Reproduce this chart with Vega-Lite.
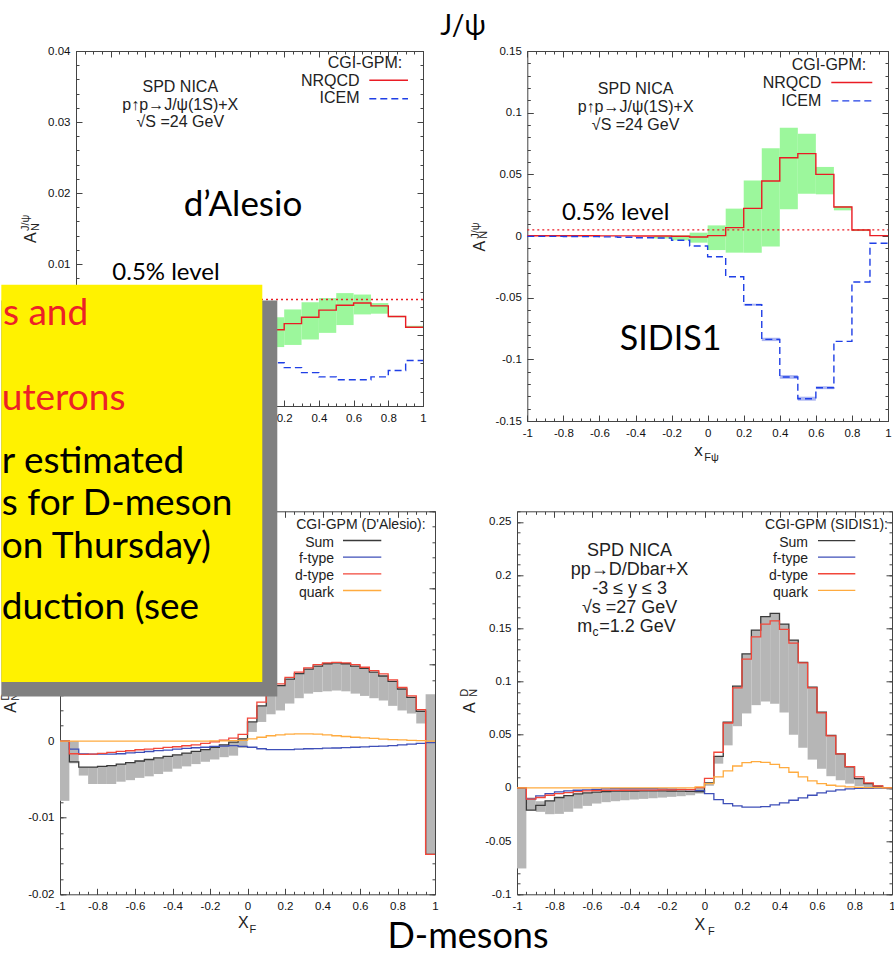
{
"$schema": "https://vega.github.io/schema/vega-lite/v6.json",
"padding": {"left": 0, "top": 12, "right": 0, "bottom": 0},
"background": "white",
"config": {"view": {"stroke": null}, "font": "Liberation Sans"},
"datasets": {
"tl": [
{"x":0.1,"nrqcd":0.00075,"icem":-0.0039},{"x":0.2,"nrqcd":0.0016,"icem":-0.0046},{"x":0.3,"nrqcd":0.0025,"icem":-0.0053},{"x":0.4,"nrqcd":0.0035,"icem":-0.0059},{"x":0.5,"nrqcd":0.0042,"icem":-0.0063},{"x":0.6,"nrqcd":0.0045,"icem":-0.0063},{"x":0.7,"nrqcd":0.0041,"icem":-0.0059},{"x":0.8,"nrqcd":0.0026,"icem":-0.005},{"x":0.9,"nrqcd":0.0011,"icem":-0.0036},{"x":1,"nrqcd":0.0011,"icem":-0.0036}],
"tl_band": [
{"x0":0.1,"x1":0.2,"lo":-0.0017,"hi":0.0025},{"x0":0.2,"x1":0.3,"lo":-0.0014,"hi":0.0036},{"x0":0.3,"x1":0.4,"lo":-0.00065,"hi":0.0046},{"x0":0.4,"x1":0.5,"lo":0.0003,"hi":0.0052},{"x0":0.5,"x1":0.6,"lo":0.0014,"hi":0.0059},{"x0":0.6,"x1":0.7,"lo":0.0029,"hi":0.0057},{"x0":0.7,"x1":0.8,"lo":0.003,"hi":0.0045},{"x0":0.8,"x1":0.9,"lo":0.0025,"hi":0.0027},{"x0":0.9,"x1":1,"lo":0.001,"hi":0.0013}],
"tr": [
{"x":-1,"nrqcd":0.0002,"icem":-0.0003},{"x":-0.9,"nrqcd":0.0002,"icem":-0.0003},{"x":-0.8,"nrqcd":0.0002,"icem":-0.0004},{"x":-0.7,"nrqcd":0.0002,"icem":-0.0005},{"x":-0.6,"nrqcd":0.0001,"icem":-0.0007},{"x":-0.5,"nrqcd":0.0001,"icem":-0.001},{"x":-0.4,"nrqcd":0,"icem":-0.0014},{"x":-0.3,"nrqcd":0,"icem":-0.0016},{"x":-0.2,"nrqcd":-0.0002,"icem":-0.0035},{"x":-0.1,"nrqcd":-0.0008,"icem":-0.0081},{"x":0,"nrqcd":0.0003,"icem":-0.0168},{"x":0.1,"nrqcd":0.0068,"icem":-0.033},{"x":0.2,"nrqcd":0.0224,"icem":-0.0557},{"x":0.3,"nrqcd":0.0446,"icem":-0.0838},{"x":0.4,"nrqcd":0.0635,"icem":-0.1143},{"x":0.5,"nrqcd":0.0668,"icem":-0.1319},{"x":0.6,"nrqcd":0.05,"icem":-0.123},{"x":0.7,"nrqcd":0.0235,"icem":-0.0854},{"x":0.8,"nrqcd":0.0049,"icem":-0.0373},{"x":0.9,"nrqcd":0.0003,"icem":-0.0059},{"x":1,"nrqcd":0.0003,"icem":-0.0059}],
"tr_band": [
{"x0":-0.3,"x1":-0.2,"lo":-0.002,"hi":0.0002},{"x0":-0.2,"x1":-0.1,"lo":-0.0035,"hi":0.0005},{"x0":-0.1,"x1":0,"lo":-0.0054,"hi":0.0027},{"x0":0,"x1":0.1,"lo":-0.0114,"hi":0.0086},{"x0":0.1,"x1":0.2,"lo":-0.0135,"hi":0.0222},{"x0":0.2,"x1":0.3,"lo":-0.0135,"hi":0.0451},{"x0":0.3,"x1":0.4,"lo":-0.0086,"hi":0.0711},{"x0":0.4,"x1":0.5,"lo":0.0216,"hi":0.0878},{"x0":0.5,"x1":0.6,"lo":0.0343,"hi":0.083},{"x0":0.6,"x1":0.7,"lo":0.0338,"hi":0.056},{"x0":0.7,"x1":0.8,"lo":0.0208,"hi":0.0243},{"x0":0.8,"x1":0.9,"lo":0.004,"hi":0.0054}],
"tr_iband": [
{"x0":0.2,"x1":0.3,"lo":-0.0565,"hi":-0.0549},{"x0":0.3,"x1":0.4,"lo":-0.0852,"hi":-0.0825},{"x0":0.4,"x1":0.5,"lo":-0.1158,"hi":-0.1128},{"x0":0.5,"x1":0.6,"lo":-0.1335,"hi":-0.1303},{"x0":0.6,"x1":0.7,"lo":-0.1242,"hi":-0.1218}],
"bl": [
{"x":-1,"sum":0,"f":0,"d":0,"q":0},{"x":-0.95,"sum":-0.0027,"f":-0.00105,"d":-0.00165,"q":0},{"x":-0.9,"sum":-0.0034,"f":-0.00166,"d":-0.00174,"q":0},{"x":-0.85,"sum":-0.0034,"f":-0.0017,"d":-0.0017,"q":0},{"x":-0.8,"sum":-0.0033,"f":-0.0017,"d":-0.0016,"q":0},{"x":-0.75,"sum":-0.0032,"f":-0.0017,"d":-0.00148,"q":0},{"x":-0.7,"sum":-0.003,"f":-0.00165,"d":-0.00135,"q":0},{"x":-0.65,"sum":-0.0028,"f":-0.00154,"d":-0.00126,"q":0},{"x":-0.6,"sum":-0.0026,"f":-0.00147,"d":-0.00113,"q":0},{"x":-0.55,"sum":-0.0024,"f":-0.00136,"d":-0.00104,"q":0},{"x":-0.5,"sum":-0.0022,"f":-0.00125,"d":-0.00095,"q":0},{"x":-0.45,"sum":-0.002,"f":-0.00118,"d":-0.00082,"q":0},{"x":-0.4,"sum":-0.0018,"f":-0.00106,"d":-0.00074,"q":0},{"x":-0.35,"sum":-0.00156,"f":-0.00095,"d":-0.00061,"q":0},{"x":-0.3,"sum":-0.00135,"f":-0.00087,"d":-0.00048,"q":0},{"x":-0.25,"sum":-0.0011,"f":-0.0008,"d":-0.0003,"q":0},{"x":-0.2,"sum":-0.0008,"f":-0.0007,"d":-0.0001,"q":0.00002},{"x":-0.15,"sum":-0.0005,"f":-0.00065,"d":0.00013,"q":0.00003},{"x":-0.1,"sum":-0.00013,"f":-0.0006,"d":0.0004,"q":0.00005},{"x":-0.05,"sum":0.0003,"f":-0.0007,"d":0.00087,"q":0.0001},{"x":0,"sum":0.0025,"f":-0.0008,"d":0.003,"q":0.0003},{"x":0.05,"sum":0.0046,"f":-0.001,"d":0.0051,"q":0.0005},{"x":0.1,"sum":0.006,"f":-0.0011,"d":0.0063,"q":0.0007},{"x":0.15,"sum":0.00725,"f":-0.0011,"d":0.00747,"q":0.0008},{"x":0.2,"sum":0.0081,"f":-0.0011,"d":0.00833,"q":0.0009},{"x":0.25,"sum":0.0088,"f":-0.00105,"d":0.009,"q":0.00095},{"x":0.3,"sum":0.0094,"f":-0.001,"d":0.00955,"q":0.00095},{"x":0.35,"sum":0.0098,"f":-0.00097,"d":0.00998,"q":0.0009},{"x":0.4,"sum":0.0101,"f":-0.00093,"d":0.0102,"q":0.0008},{"x":0.45,"sum":0.0102,"f":-0.0009,"d":0.01029,"q":0.0007},{"x":0.5,"sum":0.0101,"f":-0.00085,"d":0.0102,"q":0.0006},{"x":0.55,"sum":0.0098,"f":-0.0008,"d":0.00998,"q":0.0005},{"x":0.6,"sum":0.0095,"f":-0.00075,"d":0.00964,"q":0.00043},{"x":0.65,"sum":0.009,"f":-0.0007,"d":0.0092,"q":0.00035},{"x":0.7,"sum":0.0085,"f":-0.00065,"d":0.00877,"q":0.00026},{"x":0.75,"sum":0.0078,"f":-0.0006,"d":0.008,"q":0.0002},{"x":0.8,"sum":0.0068,"f":-0.0005,"d":0.007,"q":0.00015},{"x":0.85,"sum":0.0057,"f":-0.0004,"d":0.0059,"q":0.0001},{"x":0.9,"sum":0.0039,"f":-0.0003,"d":0.0041,"q":0.00005},{"x":0.95,"sum":-0.0148,"f":-0.0002,"d":-0.0148,"q":0},{"x":1,"sum":-0.0148,"f":-0.0002,"d":-0.0148,"q":0}],
"bl_band": [
{"x0":-1,"x1":-0.95,"lo":-0.0078,"hi":0},{"x0":-0.95,"x1":-0.9,"lo":-0.0029,"hi":0},{"x0":-0.9,"x1":-0.85,"lo":-0.0045,"hi":-0.0034},{"x0":-0.85,"x1":-0.8,"lo":-0.0056,"hi":-0.0034},{"x0":-0.8,"x1":-0.75,"lo":-0.0056,"hi":-0.0033},{"x0":-0.75,"x1":-0.7,"lo":-0.0056,"hi":-0.0032},{"x0":-0.7,"x1":-0.65,"lo":-0.0053,"hi":-0.003},{"x0":-0.65,"x1":-0.6,"lo":-0.0051,"hi":-0.0028},{"x0":-0.6,"x1":-0.55,"lo":-0.0048,"hi":-0.0026},{"x0":-0.55,"x1":-0.5,"lo":-0.0046,"hi":-0.0024},{"x0":-0.5,"x1":-0.45,"lo":-0.0043,"hi":-0.0022},{"x0":-0.45,"x1":-0.4,"lo":-0.004,"hi":-0.002},{"x0":-0.4,"x1":-0.35,"lo":-0.0036,"hi":-0.0018},{"x0":-0.35,"x1":-0.3,"lo":-0.0033,"hi":-0.00156},{"x0":-0.3,"x1":-0.25,"lo":-0.003,"hi":-0.00135},{"x0":-0.25,"x1":-0.2,"lo":-0.0027,"hi":-0.0011},{"x0":-0.2,"x1":-0.15,"lo":-0.0024,"hi":-0.0008},{"x0":-0.15,"x1":-0.1,"lo":-0.0021,"hi":-0.0005},{"x0":-0.1,"x1":-0.05,"lo":-0.0019,"hi":-0.00013},{"x0":-0.05,"x1":0,"lo":-0.0009,"hi":0.0003},{"x0":0,"x1":0.05,"lo":0.0012,"hi":0.0025},{"x0":0.05,"x1":0.1,"lo":0.0025,"hi":0.0046},{"x0":0.1,"x1":0.15,"lo":0.0035,"hi":0.006},{"x0":0.15,"x1":0.2,"lo":0.004,"hi":0.00725},{"x0":0.2,"x1":0.25,"lo":0.0049,"hi":0.0081},{"x0":0.25,"x1":0.3,"lo":0.0056,"hi":0.0088},{"x0":0.3,"x1":0.35,"lo":0.0062,"hi":0.0094},{"x0":0.35,"x1":0.4,"lo":0.0064,"hi":0.0098},{"x0":0.4,"x1":0.45,"lo":0.0065,"hi":0.0101},{"x0":0.45,"x1":0.5,"lo":0.0066,"hi":0.0102},{"x0":0.5,"x1":0.55,"lo":0.0065,"hi":0.0101},{"x0":0.55,"x1":0.6,"lo":0.0062,"hi":0.0098},{"x0":0.6,"x1":0.65,"lo":0.0059,"hi":0.0095},{"x0":0.65,"x1":0.7,"lo":0.0056,"hi":0.009},{"x0":0.7,"x1":0.75,"lo":0.0053,"hi":0.0085},{"x0":0.75,"x1":0.8,"lo":0.0046,"hi":0.0078},{"x0":0.8,"x1":0.85,"lo":0.004,"hi":0.0068},{"x0":0.85,"x1":0.9,"lo":0.0036,"hi":0.0057},{"x0":0.9,"x1":0.95,"lo":0.0023,"hi":0.0039},{"x0":0.95,"x1":1,"lo":-0.0148,"hi":0.0061}],
"br": [
{"x":-1,"sum":0,"f":0,"d":0,"q":0},{"x":-0.95,"sum":-0.0209,"f":-0.0103,"d":-0.0106,"q":0},{"x":-0.9,"sum":-0.0165,"f":-0.0075,"d":-0.009,"q":0},{"x":-0.85,"sum":-0.0122,"f":-0.0053,"d":-0.0069,"q":0},{"x":-0.8,"sum":-0.009,"f":-0.0037,"d":-0.0053,"q":0},{"x":-0.75,"sum":-0.0072,"f":-0.0028,"d":-0.0044,"q":0},{"x":-0.7,"sum":-0.0056,"f":-0.0022,"d":-0.0034,"q":0},{"x":-0.65,"sum":-0.0047,"f":-0.0019,"d":-0.0028,"q":0},{"x":-0.6,"sum":-0.004,"f":-0.0015,"d":-0.0025,"q":0},{"x":-0.55,"sum":-0.0034,"f":-0.001,"d":-0.0024,"q":0},{"x":-0.5,"sum":-0.0031,"f":-0.0008,"d":-0.0023,"q":0},{"x":-0.45,"sum":-0.003,"f":-0.0008,"d":-0.0022,"q":0},{"x":-0.4,"sum":-0.0029,"f":-0.0008,"d":-0.0021,"q":0},{"x":-0.35,"sum":-0.0028,"f":-0.0008,"d":-0.002,"q":0},{"x":-0.3,"sum":-0.0028,"f":-0.0008,"d":-0.002,"q":0},{"x":-0.25,"sum":-0.0028,"f":-0.0009,"d":-0.0019,"q":0},{"x":-0.2,"sum":-0.0029,"f":-0.0011,"d":-0.0018,"q":0},{"x":-0.15,"sum":-0.003,"f":-0.0013,"d":-0.0017,"q":0},{"x":-0.1,"sum":-0.0033,"f":-0.0017,"d":-0.0016,"q":0},{"x":-0.05,"sum":-0.0035,"f":-0.0025,"d":0.0003,"q":0.001},{"x":0,"sum":0.0047,"f":-0.0053,"d":0.009,"q":0.004},{"x":0.05,"sum":0.0297,"f":-0.011,"d":0.0335,"q":0.0103},{"x":0.1,"sum":0.0619,"f":-0.0147,"d":0.061,"q":0.016},{"x":0.15,"sum":0.0956,"f":-0.0169,"d":0.094,"q":0.0206},{"x":0.2,"sum":0.126,"f":-0.0181,"d":0.121,"q":0.0238},{"x":0.25,"sum":0.1484,"f":-0.0181,"d":0.142,"q":0.0247},{"x":0.3,"sum":0.161,"f":-0.0175,"d":0.154,"q":0.024},{"x":0.35,"sum":0.164,"f":-0.0159,"d":0.157,"q":0.0222},{"x":0.4,"sum":0.154,"f":-0.014,"d":0.149,"q":0.019},{"x":0.45,"sum":0.139,"f":-0.0116,"d":0.136,"q":0.0147},{"x":0.5,"sum":0.118,"f":-0.0094,"d":0.1175,"q":0.0103},{"x":0.55,"sum":0.0947,"f":-0.0069,"d":0.094,"q":0.0066},{"x":0.6,"sum":0.0712,"f":-0.0047,"d":0.0706,"q":0.004},{"x":0.65,"sum":0.0494,"f":-0.0031,"d":0.049,"q":0.0025},{"x":0.7,"sum":0.032,"f":-0.0019,"d":0.032,"q":0.0016},{"x":0.75,"sum":0.0197,"f":-0.0009,"d":0.02,"q":0.0009},{"x":0.8,"sum":0.0088,"f":-0.0005,"d":0.0103,"q":0.0005},{"x":0.85,"sum":0.004,"f":-0.0003,"d":0.0047,"q":0.0003},{"x":0.9,"sum":0.0016,"f":-0.0002,"d":0.0019,"q":0.0002},{"x":0.95,"sum":0.0003,"f":-0.0001,"d":0.0003,"q":0.0001},{"x":1,"sum":0.0003,"f":-0.0001,"d":0.0003,"q":0.0001}],
"br_band": [
{"x0":-1,"x1":-0.95,"lo":-0.0757,"hi":0},{"x0":-0.95,"x1":-0.9,"lo":-0.021,"hi":-0.009},{"x0":-0.9,"x1":-0.85,"lo":-0.0225,"hi":-0.0125},{"x0":-0.85,"x1":-0.8,"lo":-0.0247,"hi":-0.012},{"x0":-0.8,"x1":-0.75,"lo":-0.0244,"hi":-0.009},{"x0":-0.75,"x1":-0.7,"lo":-0.0225,"hi":-0.0072},{"x0":-0.7,"x1":-0.65,"lo":-0.0194,"hi":-0.0056},{"x0":-0.65,"x1":-0.6,"lo":-0.0169,"hi":-0.0047},{"x0":-0.6,"x1":-0.55,"lo":-0.0147,"hi":-0.004},{"x0":-0.55,"x1":-0.5,"lo":-0.0134,"hi":-0.0034},{"x0":-0.5,"x1":-0.45,"lo":-0.0125,"hi":-0.0031},{"x0":-0.45,"x1":-0.4,"lo":-0.0116,"hi":-0.003},{"x0":-0.4,"x1":-0.35,"lo":-0.0109,"hi":-0.0029},{"x0":-0.35,"x1":-0.3,"lo":-0.0103,"hi":-0.0028},{"x0":-0.3,"x1":-0.25,"lo":-0.0097,"hi":-0.0028},{"x0":-0.25,"x1":-0.2,"lo":-0.0091,"hi":-0.0028},{"x0":-0.2,"x1":-0.15,"lo":-0.0084,"hi":-0.0029},{"x0":-0.15,"x1":-0.1,"lo":-0.0078,"hi":-0.003},{"x0":-0.1,"x1":-0.05,"lo":-0.0069,"hi":-0.0033},{"x0":-0.05,"x1":0,"lo":-0.0053,"hi":0.0003},{"x0":0,"x1":0.05,"lo":0.002,"hi":0.0047},{"x0":0.05,"x1":0.1,"lo":0.0228,"hi":0.0297},{"x0":0.1,"x1":0.15,"lo":0.04,"hi":0.0619},{"x0":0.15,"x1":0.2,"lo":0.058,"hi":0.0956},{"x0":0.2,"x1":0.25,"lo":0.07,"hi":0.126},{"x0":0.25,"x1":0.3,"lo":0.0778,"hi":0.1484},{"x0":0.3,"x1":0.35,"lo":0.0813,"hi":0.161},{"x0":0.35,"x1":0.4,"lo":0.079,"hi":0.164},{"x0":0.4,"x1":0.45,"lo":0.071,"hi":0.154},{"x0":0.45,"x1":0.5,"lo":0.05,"hi":0.139},{"x0":0.5,"x1":0.55,"lo":0.0378,"hi":0.118},{"x0":0.55,"x1":0.6,"lo":0.0266,"hi":0.0947},{"x0":0.6,"x1":0.65,"lo":0.018,"hi":0.0712},{"x0":0.65,"x1":0.7,"lo":0.011,"hi":0.0494},{"x0":0.7,"x1":0.75,"lo":0.0072,"hi":0.032},{"x0":0.75,"x1":0.8,"lo":0.004,"hi":0.0197},{"x0":0.8,"x1":0.85,"lo":0.0016,"hi":0.0088},{"x0":0.85,"x1":0.9,"lo":0.0006,"hi":0.004},{"x0":0.9,"x1":0.95,"lo":0.0002,"hi":0.0016},{"x0":0.95,"x1":1,"lo":0,"hi":0.0003}]
},
"columns": 2,
"align": "each",
"bounds": "flush",
"spacing": {"row": 90.3, "column": 82},
"concat": [
{
"width": 363, "height": 355,
"resolve": {"axis": {"x": "independent", "y": "independent"}},
"layer": [
{"data": {"name": "tl_band"}, "mark": {"type": "rect", "color": "#9cf79c"},
 "encoding": {
  "x": {"field": "x0", "type": "quantitative", "scale": {"domain": [-1, 1], "range": [16, 363], "nice": false, "zero": false},
   "axis": {"orient": "bottom", "values": [-1,-0.8,-0.6,-0.4,-0.2,0,0.2,0.4,0.6,0.8,1], "tickSize": -6, "labelPadding": 12, "labelExpr": "datum.value < 0.1 ? '' : replace(format(datum.value,'~g'),'\u2212','-')", "labelFont": "Liberation Sans", "labelFontSize": 11.5, "labelColor": "#111", "labelFlush": false, "labelOverlap": false, "domainColor": "#444", "tickColor": "#444", "grid": false, "title": null}},
  "x2": {"field": "x1"},
  "y": {"field": "lo", "type": "quantitative", "scale": {"domain": [-0.01, 0.04], "nice": false, "zero": false},
   "axis": {"orient": "left", "offset": -16, "values": [-0.01,0,0.01,0.02,0.03,0.04], "tickSize": -6, "labelPadding": 12, "labelExpr": "datum.value < 0.005 ? '' : replace(format(datum.value,'~g'),'\u2212','-')", "labelFont": "Liberation Sans", "labelFontSize": 11.5, "labelColor": "#111", "labelFlush": false, "labelOverlap": false, "domainColor": "#444", "tickColor": "#444", "grid": false, "title": null}},
  "y2": {"field": "hi"}}},
{"data": {"name": "tl"}, "mark": {"type": "line", "interpolate": "step-after", "color": "#ea1c24", "strokeWidth": 1.4},
 "encoding": {
  "x": {"field": "x", "type": "quantitative", "axis": {"orient": "top", "values": [-1,-0.8,-0.6,-0.4,-0.2,0,0.2,0.4,0.6,0.8,1], "tickSize": -6, "labels": false, "domainColor": "#444", "tickColor": "#444", "grid": false, "title": null}},
  "y": {"field": "nrqcd", "type": "quantitative", "axis": {"orient": "right", "values": [-0.01,0,0.01,0.02,0.03,0.04], "tickSize": -6, "labels": false, "domainColor": "#444", "tickColor": "#444", "grid": false, "title": null}}}},
{"data": {"name": "tl"}, "mark": {"type": "line", "interpolate": "step-after", "color": "#1f3fe6", "strokeWidth": 1.4, "strokeDash": [7, 4]},
 "encoding": {
  "x": {"field": "x", "type": "quantitative", "axis": {"orient": "bottom", "values": [-1,-0.95,-0.9,-0.85,-0.8,-0.75,-0.7,-0.65,-0.6,-0.55,-0.5,-0.45,-0.4,-0.35,-0.3,-0.25,-0.2,-0.15,-0.1,-0.05,0,0.05,0.1,0.15,0.2,0.25,0.3,0.35,0.4,0.45,0.5,0.55,0.6,0.65,0.7,0.75,0.8,0.85,0.9,0.95,1], "tickSize": -3, "labels": false, "domain": false, "tickColor": "#444", "grid": false, "title": null}},
  "y": {"field": "icem", "type": "quantitative", "axis": {"orient": "left", "offset": -16, "values": [-0.01,-0.008,-0.006,-0.004,-0.002,0,0.002,0.004,0.006,0.008,0.01,0.012,0.014,0.016,0.018,0.02,0.022,0.024,0.026,0.028,0.03,0.032,0.034,0.036,0.038,0.04], "tickSize": -3, "labels": false, "domain": false, "tickColor": "#444", "grid": false, "title": null}}}},
{"data": {"name": "tl"}, "mark": {"type": "point", "opacity": 0},
 "encoding": {
  "x": {"field": "x", "type": "quantitative", "axis": {"orient": "top", "values": [-1,-0.95,-0.9,-0.85,-0.8,-0.75,-0.7,-0.65,-0.6,-0.55,-0.5,-0.45,-0.4,-0.35,-0.3,-0.25,-0.2,-0.15,-0.1,-0.05,0,0.05,0.1,0.15,0.2,0.25,0.3,0.35,0.4,0.45,0.5,0.55,0.6,0.65,0.7,0.75,0.8,0.85,0.9,0.95,1], "tickSize": -3, "labels": false, "domain": false, "tickColor": "#444", "grid": false, "title": null}},
  "y": {"field": "icem", "type": "quantitative", "axis": {"orient": "right", "values": [-0.01,-0.008,-0.006,-0.004,-0.002,0,0.002,0.004,0.006,0.008,0.01,0.012,0.014,0.016,0.018,0.02,0.022,0.024,0.026,0.028,0.03,0.032,0.034,0.036,0.038,0.04], "tickSize": -3, "labels": false, "domain": false, "tickColor": "#444", "grid": false, "title": null}}}},
{"data": {"values": [{}]}, "mark": {"type": "rule", "color": "#ea1c24", "strokeDash": [2, 3], "strokeWidth": 1.3},
 "encoding": {"x": {"datum": -1, "axis": null}, "x2": {"datum": 1}, "y": {"datum": 0.005, "axis": null}}},
{"data": {"values": [{}]}, "mark": {"type": "text", "text": ["SPD NICA", "p↑p→J/ψ(1S)+X", "√S =24 GeV"], "font": "Liberation Sans", "fontSize": 16, "lineHeight": 17.5, "align": "center", "baseline": "alphabetic", "color": "#222"},
 "encoding": {"x": {"datum": -0.3988, "axis": null}, "y": {"datum": 0.03418, "axis": null}}},
{"data": {"values": [{}]}, "mark": {"type": "text", "text": "CGI-GPM:", "font": "Liberation Sans", "fontSize": 16, "align": "right", "baseline": "alphabetic", "color": "#222"},
 "encoding": {"x": {"datum": 0.8807, "axis": null}, "y": {"datum": 0.03756, "axis": null}}},
{"data": {"values": [{}]}, "mark": {"type": "text", "text": "NRQCD", "font": "Liberation Sans", "fontSize": 16, "align": "right", "baseline": "alphabetic", "color": "#222"},
 "encoding": {"x": {"datum": 0.6346, "axis": null}, "y": {"datum": 0.03511, "axis": null}}},
{"data": {"values": [{}]}, "mark": {"type": "text", "text": "ICEM", "font": "Liberation Sans", "fontSize": 16, "align": "right", "baseline": "alphabetic", "color": "#222"},
 "encoding": {"x": {"datum": 0.6346, "axis": null}, "y": {"datum": 0.03263, "axis": null}}},
{"data": {"values": [{}]}, "mark": {"type": "rule", "color": "#ea1c24", "strokeWidth": 1.4},
 "encoding": {"x": {"datum": 0.6905, "axis": null}, "x2": {"datum": 0.9135}, "y": {"datum": 0.03587, "axis": null}}},
{"data": {"values": [{}]}, "mark": {"type": "rule", "color": "#1f3fe6", "strokeWidth": 1.4, "strokeDash": [7, 4]},
 "encoding": {"x": {"datum": 0.6905, "axis": null}, "x2": {"datum": 0.9135}, "y": {"datum": 0.03328, "axis": null}}},
{"data": {"values": [{}]}, "mark": {"type": "text", "text": "d’Alesio", "font": "Lato", "fontSize": 35, "align": "center", "baseline": "alphabetic", "color": "#000"},
 "encoding": {"x": {"datum": -0.0375, "axis": null}, "y": {"datum": 0.0168, "axis": null}}},
{"data": {"values": [{}]}, "mark": {"type": "text", "text": "0.5% level", "font": "Lato", "fontSize": 24, "align": "left", "baseline": "alphabetic", "color": "#000"},
 "encoding": {"x": {"datum": -0.7908, "axis": null}, "y": {"datum": 0.00775, "axis": null}}},
{"data": {"values": [{}]}, "mark": {"type": "text", "text": "A", "font": "Liberation Sans", "fontSize": 16, "angle": 270, "align": "left", "baseline": "alphabetic", "color": "#222"},
 "encoding": {"x": {"datum": -1.2288, "axis": null}, "y": {"datum": 0.01296, "axis": null}}},
{"data": {"values": [{}]}, "mark": {"type": "text", "text": "N", "font": "Liberation Sans", "fontSize": 11, "angle": 270, "align": "left", "baseline": "alphabetic", "color": "#222"},
 "encoding": {"x": {"datum": -1.2144, "axis": null}, "y": {"datum": 0.01465, "axis": null}}},
{"data": {"values": [{}]}, "mark": {"type": "text", "text": "J/ψ", "font": "Liberation Sans", "fontSize": 11, "angle": 270, "align": "left", "baseline": "alphabetic", "color": "#222"},
 "encoding": {"x": {"datum": -1.2692, "axis": null}, "y": {"datum": 0.01465, "axis": null}}}
]
},
{
"width": 371, "height": 370,
"resolve": {"axis": {"x": "independent", "y": "independent"}},
"layer": [
{"data": {"name": "tr_band"}, "mark": {"type": "rect", "color": "#9cf79c"},
 "encoding": {
  "x": {"field": "x0", "type": "quantitative", "scale": {"domain": [-1, 1], "range": [10.3, 371], "nice": false, "zero": false},
   "axis": {"orient": "bottom", "values": [-1,-0.8,-0.6,-0.4,-0.2,0,0.2,0.4,0.6,0.8,1], "tickSize": -6, "labelPadding": 12, "labelExpr": "replace(format(datum.value,'~g'),'\u2212','-')", "labelFont": "Liberation Sans", "labelFontSize": 11.5, "labelColor": "#111", "labelFlush": false, "labelOverlap": false, "domainColor": "#444", "tickColor": "#444", "grid": false, "title": null}},
  "x2": {"field": "x1"},
  "y": {"field": "lo", "type": "quantitative", "scale": {"domain": [-0.15, 0.15], "nice": false, "zero": false},
   "axis": {"orient": "left", "offset": -10.3, "values": [-0.15,-0.1,-0.05,0,0.05,0.1,0.15], "tickSize": -6, "labelPadding": 12, "labelExpr": "replace(format(datum.value,'~g'),'\u2212','-')", "labelFont": "Liberation Sans", "labelFontSize": 11.5, "labelColor": "#111", "labelFlush": false, "labelOverlap": false, "domainColor": "#444", "tickColor": "#444", "grid": false, "title": null}},
  "y2": {"field": "hi"}}},
{"data": {"name": "tr_iband"}, "mark": {"type": "rect", "color": "#aab4f2"},
 "encoding": {
  "x": {"field": "x0", "type": "quantitative", "axis": {"orient": "top", "values": [-1,-0.95,-0.9,-0.85,-0.8,-0.75,-0.7,-0.65,-0.6,-0.55,-0.5,-0.45,-0.4,-0.35,-0.3,-0.25,-0.2,-0.15,-0.1,-0.05,0,0.05,0.1,0.15,0.2,0.25,0.3,0.35,0.4,0.45,0.5,0.55,0.6,0.65,0.7,0.75,0.8,0.85,0.9,0.95,1], "tickSize": -3, "labels": false, "domain": false, "tickColor": "#444", "grid": false, "title": null}},
  "x2": {"field": "x1"},
  "y": {"field": "lo", "type": "quantitative", "axis": {"orient": "right", "values": [-0.15,-0.14,-0.13,-0.12,-0.11,-0.1,-0.09,-0.08,-0.07,-0.06,-0.05,-0.04,-0.03,-0.02,-0.01,0,0.01,0.02,0.03,0.04,0.05,0.06,0.07,0.08,0.09,0.1,0.11,0.12,0.13,0.14,0.15], "tickSize": -3, "labels": false, "domain": false, "tickColor": "#444", "grid": false, "title": null}},
  "y2": {"field": "hi"}}},
{"data": {"name": "tr"}, "mark": {"type": "line", "interpolate": "step-after", "color": "#ea1c24", "strokeWidth": 1.4},
 "encoding": {
  "x": {"field": "x", "type": "quantitative", "axis": {"orient": "top", "values": [-1,-0.8,-0.6,-0.4,-0.2,0,0.2,0.4,0.6,0.8,1], "tickSize": -6, "labels": false, "domainColor": "#444", "tickColor": "#444", "grid": false, "title": null}},
  "y": {"field": "nrqcd", "type": "quantitative", "axis": {"orient": "right", "values": [-0.15,-0.1,-0.05,0,0.05,0.1,0.15], "tickSize": -6, "labels": false, "domainColor": "#444", "tickColor": "#444", "grid": false, "title": null}}}},
{"data": {"name": "tr"}, "mark": {"type": "line", "interpolate": "step-after", "color": "#1f3fe6", "strokeWidth": 1.4, "strokeDash": [7, 4]},
 "encoding": {
  "x": {"field": "x", "type": "quantitative", "axis": {"orient": "bottom", "values": [-1,-0.95,-0.9,-0.85,-0.8,-0.75,-0.7,-0.65,-0.6,-0.55,-0.5,-0.45,-0.4,-0.35,-0.3,-0.25,-0.2,-0.15,-0.1,-0.05,0,0.05,0.1,0.15,0.2,0.25,0.3,0.35,0.4,0.45,0.5,0.55,0.6,0.65,0.7,0.75,0.8,0.85,0.9,0.95,1], "tickSize": -3, "labels": false, "domain": false, "tickColor": "#444", "grid": false, "title": null}},
  "y": {"field": "icem", "type": "quantitative", "axis": {"orient": "left", "offset": -10.3, "values": [-0.15,-0.14,-0.13,-0.12,-0.11,-0.1,-0.09,-0.08,-0.07,-0.06,-0.05,-0.04,-0.03,-0.02,-0.01,0,0.01,0.02,0.03,0.04,0.05,0.06,0.07,0.08,0.09,0.1,0.11,0.12,0.13,0.14,0.15], "tickSize": -3, "labels": false, "domain": false, "tickColor": "#444", "grid": false, "title": null}}}},
{"data": {"values": [{}]}, "mark": {"type": "rule", "color": "#ea1c24", "strokeDash": [2, 3], "strokeWidth": 1.3},
 "encoding": {"x": {"datum": -1, "axis": null}, "x2": {"datum": 1}, "y": {"datum": 0.005, "axis": null}}},
{"data": {"values": [{}]}, "mark": {"type": "text", "text": ["SPD NICA", "p↑p→J/ψ(1S)+X", "√S =24 GeV"], "font": "Liberation Sans", "fontSize": 16, "lineHeight": 18.2, "align": "center", "baseline": "alphabetic", "color": "#222"},
 "encoding": {"x": {"datum": -0.3995, "axis": null}, "y": {"datum": 0.1151, "axis": null}}},
{"data": {"values": [{}]}, "mark": {"type": "text", "text": "CGI-GPM:", "font": "Liberation Sans", "fontSize": 16, "align": "right", "baseline": "alphabetic", "color": "#222"},
 "encoding": {"x": {"datum": 0.8797, "axis": null}, "y": {"datum": 0.1342, "axis": null}}},
{"data": {"values": [{}]}, "mark": {"type": "text", "text": "NRQCD", "font": "Liberation Sans", "fontSize": 16, "align": "right", "baseline": "alphabetic", "color": "#222"},
 "encoding": {"x": {"datum": 0.6302, "axis": null}, "y": {"datum": 0.1199, "axis": null}}},
{"data": {"values": [{}]}, "mark": {"type": "text", "text": "ICEM", "font": "Liberation Sans", "fontSize": 16, "align": "right", "baseline": "alphabetic", "color": "#222"},
 "encoding": {"x": {"datum": 0.6302, "axis": null}, "y": {"datum": 0.1056, "axis": null}}},
{"data": {"values": [{}]}, "mark": {"type": "rule", "color": "#ea1c24", "strokeWidth": 1.4},
 "encoding": {"x": {"datum": 0.6856, "axis": null}, "x2": {"datum": 0.9129}, "y": {"datum": 0.1245, "axis": null}}},
{"data": {"values": [{}]}, "mark": {"type": "rule", "color": "#1f3fe6", "strokeWidth": 1.4, "strokeDash": [7, 4]},
 "encoding": {"x": {"datum": 0.6856, "axis": null}, "x2": {"datum": 0.9129}, "y": {"datum": 0.1096, "axis": null}}},
{"data": {"values": [{}]}, "mark": {"type": "text", "text": "0.5% level", "font": "Lato", "fontSize": 24, "align": "left", "baseline": "alphabetic", "color": "#000"},
 "encoding": {"x": {"datum": -0.8076, "axis": null}, "y": {"datum": 0.01313, "axis": null}}},
{"data": {"values": [{}]}, "mark": {"type": "text", "text": "SIDIS1", "font": "Lato", "fontSize": 34, "align": "center", "baseline": "alphabetic", "color": "#000"},
 "encoding": {"x": {"datum": -0.2054, "axis": null}, "y": {"datum": -0.0923, "axis": null}}},
{"data": {"values": [{}]}, "mark": {"type": "text", "text": "J/ψ", "font": "Lato", "fontSize": 28, "align": "center", "baseline": "alphabetic", "color": "#000"},
 "encoding": {"x": {"datum": -1.3565, "axis": null}, "y": {"datum": 0.16314, "axis": null}}},
{"data": {"values": [{}]}, "mark": {"type": "text", "text": "A", "font": "Liberation Sans", "fontSize": 16, "angle": 270, "align": "left", "baseline": "alphabetic", "color": "#222"},
 "encoding": {"x": {"datum": -1.2358, "axis": null}, "y": {"datum": -0.01257, "axis": null}}},
{"data": {"values": [{}]}, "mark": {"type": "text", "text": "N", "font": "Liberation Sans", "fontSize": 11, "angle": 270, "align": "left", "baseline": "alphabetic", "color": "#222"},
 "encoding": {"x": {"datum": -1.2218, "axis": null}, "y": {"datum": -0.00228, "axis": null}}},
{"data": {"values": [{}]}, "mark": {"type": "text", "text": "J/ψ", "font": "Liberation Sans", "fontSize": 11, "angle": 270, "align": "left", "baseline": "alphabetic", "color": "#222"},
 "encoding": {"x": {"datum": -1.2689, "axis": null}, "y": {"datum": -0.00228, "axis": null}}},
{"data": {"values": [{}]}, "mark": {"type": "text", "text": "x", "font": "Liberation Sans", "fontSize": 17, "align": "left", "baseline": "alphabetic", "color": "#222"},
 "encoding": {"x": {"datum": -0.074, "axis": null}, "y": {"datum": -0.1782, "axis": null}}},
{"data": {"values": [{}]}, "mark": {"type": "text", "text": "Fψ", "font": "Liberation Sans", "fontSize": 11, "align": "left", "baseline": "alphabetic", "color": "#222"},
 "encoding": {"x": {"datum": -0.0186, "axis": null}, "y": {"datum": -0.1823, "axis": null}}}
]
},
{
"width": 375, "height": 383,
"resolve": {"axis": {"x": "independent", "y": "independent"}},
"layer": [
{"data": {"name": "bl_band"}, "mark": {"type": "rect", "color": "#b6b6b6"},
 "encoding": {
  "x": {"field": "x0", "type": "quantitative", "scale": {"domain": [-1, 1], "nice": false, "zero": false},
   "axis": {"orient": "bottom", "values": [-1,-0.8,-0.6,-0.4,-0.2,0,0.2,0.4,0.6,0.8,1], "tickSize": -6, "labelPadding": 12, "labelExpr": "replace(format(datum.value,'~g'),'\u2212','-')", "labelFont": "Liberation Sans", "labelFontSize": 11.5, "labelColor": "#111", "labelFlush": false, "labelOverlap": false, "domainColor": "#444", "tickColor": "#444", "grid": false, "title": null}},
  "x2": {"field": "x1"},
  "y": {"field": "lo", "type": "quantitative", "scale": {"domain": [-0.02, 0.03], "nice": false, "zero": false},
   "axis": {"orient": "left", "values": [-0.02,-0.01,0,0.01,0.02,0.03], "tickSize": -6, "labelPadding": 12, "labelExpr": "datum.value > 0.005 ? '' : replace(format(datum.value,'~g'),'\u2212','-')", "labelFont": "Liberation Sans", "labelFontSize": 11.5, "labelColor": "#111", "labelFlush": false, "labelOverlap": false, "domainColor": "#444", "tickColor": "#444", "grid": false, "title": null}},
  "y2": {"field": "hi"}}},
{"data": {"name": "bl"}, "mark": {"type": "line", "interpolate": "step-after", "color": "#3a3a3a", "strokeWidth": 1.3},
 "encoding": {
  "x": {"field": "x", "type": "quantitative", "axis": {"orient": "top", "values": [-1,-0.8,-0.6,-0.4,-0.2,0,0.2,0.4,0.6,0.8,1], "tickSize": -6, "labels": false, "domainColor": "#444", "tickColor": "#444", "grid": false, "title": null}},
  "y": {"field": "sum", "type": "quantitative", "axis": {"orient": "right", "values": [-0.02,-0.01,0,0.01,0.02,0.03], "tickSize": -6, "labels": false, "domainColor": "#444", "tickColor": "#444", "grid": false, "title": null}}}},
{"data": {"name": "bl"}, "mark": {"type": "line", "interpolate": "step-after", "color": "#3e4fb8", "strokeWidth": 1.3},
 "encoding": {
  "x": {"field": "x", "type": "quantitative", "axis": {"orient": "bottom", "values": [-1,-0.95,-0.9,-0.85,-0.8,-0.75,-0.7,-0.65,-0.6,-0.55,-0.5,-0.45,-0.4,-0.35,-0.3,-0.25,-0.2,-0.15,-0.1,-0.05,0,0.05,0.1,0.15,0.2,0.25,0.3,0.35,0.4,0.45,0.5,0.55,0.6,0.65,0.7,0.75,0.8,0.85,0.9,0.95,1], "tickSize": -3, "labels": false, "domain": false, "tickColor": "#444", "grid": false, "title": null}},
  "y": {"field": "f", "type": "quantitative", "axis": {"orient": "left", "values": [-0.02,-0.018,-0.016,-0.014,-0.012,-0.01,-0.008,-0.006,-0.004,-0.002,0,0.002,0.004,0.006,0.008,0.01,0.012,0.014,0.016,0.018,0.02,0.022,0.024,0.026,0.028,0.03], "tickSize": -3, "labels": false, "domain": false, "tickColor": "#444", "grid": false, "title": null}}}},
{"data": {"name": "bl"}, "mark": {"type": "line", "interpolate": "step-after", "color": "#f2473a", "strokeWidth": 1.3},
 "encoding": {
  "x": {"field": "x", "type": "quantitative", "axis": {"orient": "top", "values": [-1,-0.95,-0.9,-0.85,-0.8,-0.75,-0.7,-0.65,-0.6,-0.55,-0.5,-0.45,-0.4,-0.35,-0.3,-0.25,-0.2,-0.15,-0.1,-0.05,0,0.05,0.1,0.15,0.2,0.25,0.3,0.35,0.4,0.45,0.5,0.55,0.6,0.65,0.7,0.75,0.8,0.85,0.9,0.95,1], "tickSize": -3, "labels": false, "domain": false, "tickColor": "#444", "grid": false, "title": null}},
  "y": {"field": "d", "type": "quantitative", "axis": {"orient": "right", "values": [-0.02,-0.018,-0.016,-0.014,-0.012,-0.01,-0.008,-0.006,-0.004,-0.002,0,0.002,0.004,0.006,0.008,0.01,0.012,0.014,0.016,0.018,0.02,0.022,0.024,0.026,0.028,0.03], "tickSize": -3, "labels": false, "domain": false, "tickColor": "#444", "grid": false, "title": null}}}},
{"data": {"name": "bl"}, "mark": {"type": "line", "interpolate": "step-after", "color": "#ffab3f", "strokeWidth": 1.3},
 "encoding": {"x": {"field": "x", "type": "quantitative", "axis": null}, "y": {"field": "q", "type": "quantitative", "axis": null}}},
{"data": {"values": [{}]}, "mark": {"type": "text", "text": "CGI-GPM (D'Alesio):", "font": "Liberation Sans", "fontSize": 14, "align": "right", "baseline": "alphabetic", "color": "#222"},
 "encoding": {"x": {"datum": 0.9499, "axis": null}, "y": {"datum": 0.02768, "axis": null}}},
{"data": {"values": [{}]}, "mark": {"type": "text", "text": ["Sum", "f-type", "d-type", "quark"], "lineHeight": 16.7, "font": "Liberation Sans", "fontSize": 14, "align": "right", "baseline": "alphabetic", "color": "#222"},
 "encoding": {"x": {"datum": 0.4613, "axis": null}, "y": {"datum": 0.0254, "axis": null}}},
{"data": {"values": [{}]}, "mark": {"type": "rule", "color": "#3a3a3a", "strokeWidth": 1.3},
 "encoding": {"x": {"datum": 0.5093, "axis": null}, "x2": {"datum": 0.7136}, "y": {"datum": 0.02619, "axis": null}}},
{"data": {"values": [{}]}, "mark": {"type": "rule", "color": "#3e4fb8", "strokeWidth": 1.3},
 "encoding": {"x": {"datum": 0.5093, "axis": null}, "x2": {"datum": 0.7136}, "y": {"datum": 0.02402, "axis": null}}},
{"data": {"values": [{}]}, "mark": {"type": "rule", "color": "#f2473a", "strokeWidth": 1.3},
 "encoding": {"x": {"datum": 0.5093, "axis": null}, "x2": {"datum": 0.7136}, "y": {"datum": 0.02184, "axis": null}}},
{"data": {"values": [{}]}, "mark": {"type": "rule", "color": "#ffab3f", "strokeWidth": 1.3},
 "encoding": {"x": {"datum": 0.5093, "axis": null}, "x2": {"datum": 0.7136}, "y": {"datum": 0.01966, "axis": null}}},
{"data": {"values": [{}]}, "mark": {"type": "text", "text": "X", "font": "Liberation Sans", "fontSize": 16, "align": "left", "baseline": "alphabetic", "color": "#222"},
 "encoding": {"x": {"datum": -0.0507, "axis": null}, "y": {"datum": -0.02437, "axis": null}}},
{"data": {"values": [{}]}, "mark": {"type": "text", "text": "F", "font": "Liberation Sans", "fontSize": 11, "align": "left", "baseline": "alphabetic", "color": "#222"},
 "encoding": {"x": {"datum": 0.0112, "axis": null}, "y": {"datum": -0.02503, "axis": null}}},
{"data": {"values": [{}]}, "mark": {"type": "text", "text": "A", "font": "Liberation Sans", "fontSize": 16, "angle": 270, "align": "left", "baseline": "alphabetic", "color": "#222"},
 "encoding": {"x": {"datum": -1.2331, "axis": null}, "y": {"datum": 0.00369, "axis": null}}},
{"data": {"values": [{}]}, "mark": {"type": "text", "text": "N", "font": "Liberation Sans", "fontSize": 11, "angle": 270, "align": "left", "baseline": "alphabetic", "color": "#222"},
 "encoding": {"x": {"datum": -1.2197, "axis": null}, "y": {"datum": 0.00526, "axis": null}}},
{"data": {"values": [{}]}, "mark": {"type": "text", "text": "D", "font": "Liberation Sans", "fontSize": 11, "angle": 270, "align": "left", "baseline": "alphabetic", "color": "#222"},
 "encoding": {"x": {"datum": -1.2704, "axis": null}, "y": {"datum": 0.00526, "axis": null}}},
{"data": {"values": [{}]}, "mark": {"type": "text", "text": "D-mesons", "font": "Lato", "fontSize": 36, "align": "center", "baseline": "alphabetic", "color": "#000"},
 "encoding": {"x": {"datum": 1.176, "axis": null}, "y": {"datum": -0.02705, "axis": null}}},
{"data": {"values": [{}]}, "mark": {"type": "rect", "color": "#808080"},
 "encoding": {"x": {"datum": -1.313, "axis": null}, "x2": {"datum": 0.1589}, "y": {"datum": 0.05752, "axis": null}, "y2": {"datum": 0.00582}}},
{"data": {"values": [{}]}, "mark": {"type": "rect", "color": "#fff200"},
 "encoding": {"x": {"datum": -1.313, "axis": null}, "x2": {"datum": 0.0789}, "y": {"datum": 0.05957, "axis": null}, "y2": {"datum": 0.0077}}},
{"data": {"values": [{}]}, "mark": {"type": "text", "text": "s and", "font": "Lato", "fontSize": 37, "align": "left", "baseline": "alphabetic", "color": "#ec2227"},
 "encoding": {"x": {"datum": -1.3045, "axis": null}, "y": {"datum": 0.05435, "axis": null}}},
{"data": {"values": [{}]}, "mark": {"type": "text", "text": "uterons", "font": "Lato", "fontSize": 37, "align": "left", "baseline": "alphabetic", "color": "#ec2227"},
 "encoding": {"x": {"datum": -1.3105, "axis": null}, "y": {"datum": 0.04325, "axis": null}}},
{"data": {"values": [{}]}, "mark": {"type": "text", "text": ["r estimated", "s for D-meson", "on Thursday)"], "lineHeight": 42.7, "font": "Lato", "fontSize": 37, "align": "left", "baseline": "alphabetic", "color": "#000"},
 "encoding": {"x": {"datum": -1.3105, "axis": null}, "y": {"datum": 0.03506, "axis": null}}},
{"data": {"values": [{}]}, "mark": {"type": "text", "text": "duction (see", "font": "Lato", "fontSize": 37, "align": "left", "baseline": "alphabetic", "color": "#000"},
 "encoding": {"x": {"datum": -1.3105, "axis": null}, "y": {"datum": 0.01597, "axis": null}}}
]
},
{
"width": 375, "height": 383,
"resolve": {"axis": {"x": "independent", "y": "independent"}},
"layer": [
{"data": {"name": "br_band"}, "mark": {"type": "rect", "color": "#b6b6b6"},
 "encoding": {
  "x": {"field": "x0", "type": "quantitative", "scale": {"domain": [-1, 1], "nice": false, "zero": false},
   "axis": {"orient": "bottom", "values": [-1,-0.8,-0.6,-0.4,-0.2,0,0.2,0.4,0.6,0.8,1], "tickSize": -6, "labelPadding": 12, "labelExpr": "replace(format(datum.value,'~g'),'\u2212','-')", "labelFont": "Liberation Sans", "labelFontSize": 11.5, "labelColor": "#111", "labelFlush": false, "labelOverlap": false, "domainColor": "#444", "tickColor": "#444", "grid": false, "title": null}},
  "x2": {"field": "x1"},
  "y": {"field": "lo", "type": "quantitative", "scale": {"domain": [-0.1, 0.26], "nice": false, "zero": false},
   "axis": {"orient": "left", "values": [-0.1,-0.05,0,0.05,0.1,0.15,0.2,0.25], "tickSize": -6, "labelPadding": 12, "labelExpr": "replace(format(datum.value,'~g'),'\u2212','-')", "labelFont": "Liberation Sans", "labelFontSize": 11.5, "labelColor": "#111", "labelFlush": false, "labelOverlap": false, "domainColor": "#444", "tickColor": "#444", "grid": false, "title": null}},
  "y2": {"field": "hi"}}},
{"data": {"name": "br"}, "mark": {"type": "line", "interpolate": "step-after", "color": "#3a3a3a", "strokeWidth": 1.3},
 "encoding": {
  "x": {"field": "x", "type": "quantitative", "axis": {"orient": "top", "values": [-1,-0.8,-0.6,-0.4,-0.2,0,0.2,0.4,0.6,0.8,1], "tickSize": -6, "labels": false, "domainColor": "#444", "tickColor": "#444", "grid": false, "title": null}},
  "y": {"field": "sum", "type": "quantitative", "axis": {"orient": "right", "values": [-0.1,-0.05,0,0.05,0.1,0.15,0.2,0.25], "tickSize": -6, "labels": false, "domainColor": "#444", "tickColor": "#444", "grid": false, "title": null}}}},
{"data": {"name": "br"}, "mark": {"type": "line", "interpolate": "step-after", "color": "#3e4fb8", "strokeWidth": 1.3},
 "encoding": {
  "x": {"field": "x", "type": "quantitative", "axis": {"orient": "bottom", "values": [-1,-0.95,-0.9,-0.85,-0.8,-0.75,-0.7,-0.65,-0.6,-0.55,-0.5,-0.45,-0.4,-0.35,-0.3,-0.25,-0.2,-0.15,-0.1,-0.05,0,0.05,0.1,0.15,0.2,0.25,0.3,0.35,0.4,0.45,0.5,0.55,0.6,0.65,0.7,0.75,0.8,0.85,0.9,0.95,1], "tickSize": -3, "labels": false, "domain": false, "tickColor": "#444", "grid": false, "title": null}},
  "y": {"field": "f", "type": "quantitative", "axis": {"orient": "left", "values": [-0.1,-0.09,-0.08,-0.07,-0.06,-0.05,-0.04,-0.03,-0.02,-0.01,0,0.01,0.02,0.03,0.04,0.05,0.06,0.07,0.08,0.09,0.1,0.11,0.12,0.13,0.14,0.15,0.16,0.17,0.18,0.19,0.2,0.21,0.22,0.23,0.24,0.25,0.26], "tickSize": -3, "labels": false, "domain": false, "tickColor": "#444", "grid": false, "title": null}}}},
{"data": {"name": "br"}, "mark": {"type": "line", "interpolate": "step-after", "color": "#f2473a", "strokeWidth": 1.3},
 "encoding": {
  "x": {"field": "x", "type": "quantitative", "axis": {"orient": "top", "values": [-1,-0.95,-0.9,-0.85,-0.8,-0.75,-0.7,-0.65,-0.6,-0.55,-0.5,-0.45,-0.4,-0.35,-0.3,-0.25,-0.2,-0.15,-0.1,-0.05,0,0.05,0.1,0.15,0.2,0.25,0.3,0.35,0.4,0.45,0.5,0.55,0.6,0.65,0.7,0.75,0.8,0.85,0.9,0.95,1], "tickSize": -3, "labels": false, "domain": false, "tickColor": "#444", "grid": false, "title": null}},
  "y": {"field": "d", "type": "quantitative", "axis": {"orient": "right", "values": [-0.1,-0.09,-0.08,-0.07,-0.06,-0.05,-0.04,-0.03,-0.02,-0.01,0,0.01,0.02,0.03,0.04,0.05,0.06,0.07,0.08,0.09,0.1,0.11,0.12,0.13,0.14,0.15,0.16,0.17,0.18,0.19,0.2,0.21,0.22,0.23,0.24,0.25,0.26], "tickSize": -3, "labels": false, "domain": false, "tickColor": "#444", "grid": false, "title": null}}}},
{"data": {"name": "br"}, "mark": {"type": "line", "interpolate": "step-after", "color": "#ffab3f", "strokeWidth": 1.3},
 "encoding": {"x": {"field": "x", "type": "quantitative", "axis": null}, "y": {"field": "q", "type": "quantitative", "axis": null}}},
{"data": {"values": [{}]}, "mark": {"type": "text", "text": ["SPD NICA", "pp→D/Dbar+X", "-3 ≤ y ≤ 3", "√s =27 GeV"], "lineHeight": 19, "font": "Liberation Sans", "fontSize": 18, "align": "center", "baseline": "alphabetic", "color": "#222"},
 "encoding": {"x": {"datum": -0.3995, "axis": null}, "y": {"datum": 0.2182, "axis": null}}},
{"data": {"values": [{}]}, "mark": {"type": "text", "text": "m", "font": "Liberation Sans", "fontSize": 18, "align": "left", "baseline": "alphabetic", "color": "#222"},
 "encoding": {"x": {"datum": -0.6784, "axis": null}, "y": {"datum": 0.1465, "axis": null}}},
{"data": {"values": [{}]}, "mark": {"type": "text", "text": "c", "font": "Liberation Sans", "fontSize": 12, "align": "left", "baseline": "alphabetic", "color": "#222"},
 "encoding": {"x": {"datum": -0.5975, "axis": null}, "y": {"datum": 0.143, "axis": null}}},
{"data": {"values": [{}]}, "mark": {"type": "text", "text": "=1.2 GeV", "font": "Liberation Sans", "fontSize": 18, "align": "left", "baseline": "alphabetic", "color": "#222"},
 "encoding": {"x": {"datum": -0.561, "axis": null}, "y": {"datum": 0.1465, "axis": null}}},
{"data": {"values": [{}]}, "mark": {"type": "text", "text": "CGI-GPM (SIDIS1):", "font": "Liberation Sans", "fontSize": 14, "align": "right", "baseline": "alphabetic", "color": "#222"},
 "encoding": {"x": {"datum": 0.9787, "axis": null}, "y": {"datum": 0.2433, "axis": null}}},
{"data": {"values": [{}]}, "mark": {"type": "text", "text": ["Sum", "f-type", "d-type", "quark"], "lineHeight": 16.7, "font": "Liberation Sans", "fontSize": 14, "align": "right", "baseline": "alphabetic", "color": "#222"},
 "encoding": {"x": {"datum": 0.552, "axis": null}, "y": {"datum": 0.2269, "axis": null}}},
{"data": {"values": [{}]}, "mark": {"type": "rule", "color": "#3a3a3a", "strokeWidth": 1.3},
 "encoding": {"x": {"datum": 0.6053, "axis": null}, "x2": {"datum": 0.8043}, "y": {"datum": 0.2325, "axis": null}}},
{"data": {"values": [{}]}, "mark": {"type": "rule", "color": "#3e4fb8", "strokeWidth": 1.3},
 "encoding": {"x": {"datum": 0.6053, "axis": null}, "x2": {"datum": 0.8043}, "y": {"datum": 0.217, "axis": null}}},
{"data": {"values": [{}]}, "mark": {"type": "rule", "color": "#f2473a", "strokeWidth": 1.3},
 "encoding": {"x": {"datum": 0.6053, "axis": null}, "x2": {"datum": 0.8043}, "y": {"datum": 0.2013, "axis": null}}},
{"data": {"values": [{}]}, "mark": {"type": "rule", "color": "#ffab3f", "strokeWidth": 1.3},
 "encoding": {"x": {"datum": 0.6053, "axis": null}, "x2": {"datum": 0.8043}, "y": {"datum": 0.1856, "axis": null}}},
{"data": {"values": [{}]}, "mark": {"type": "text", "text": "X", "font": "Liberation Sans", "fontSize": 16, "align": "left", "baseline": "alphabetic", "color": "#222"},
 "encoding": {"x": {"datum": -0.0528, "axis": null}, "y": {"datum": -0.1334, "axis": null}}},
{"data": {"values": [{}]}, "mark": {"type": "text", "text": "F", "font": "Liberation Sans", "fontSize": 11, "align": "left", "baseline": "alphabetic", "color": "#222"},
 "encoding": {"x": {"datum": 0.0187, "axis": null}, "y": {"datum": -0.1381, "axis": null}}},
{"data": {"values": [{}]}, "mark": {"type": "text", "text": "A", "font": "Liberation Sans", "fontSize": 16, "angle": 270, "align": "left", "baseline": "alphabetic", "color": "#222"},
 "encoding": {"x": {"datum": -1.2261, "axis": null}, "y": {"datum": 0.0703, "axis": null}}},
{"data": {"values": [{}]}, "mark": {"type": "text", "text": "N", "font": "Liberation Sans", "fontSize": 11, "angle": 270, "align": "left", "baseline": "alphabetic", "color": "#222"},
 "encoding": {"x": {"datum": -1.2117, "axis": null}, "y": {"datum": 0.0856, "axis": null}}},
{"data": {"values": [{}]}, "mark": {"type": "text", "text": "D", "font": "Liberation Sans", "fontSize": 11, "angle": 270, "align": "left", "baseline": "alphabetic", "color": "#222"},
 "encoding": {"x": {"datum": -1.2597, "axis": null}, "y": {"datum": 0.0856, "axis": null}}}
]
}
]
}
